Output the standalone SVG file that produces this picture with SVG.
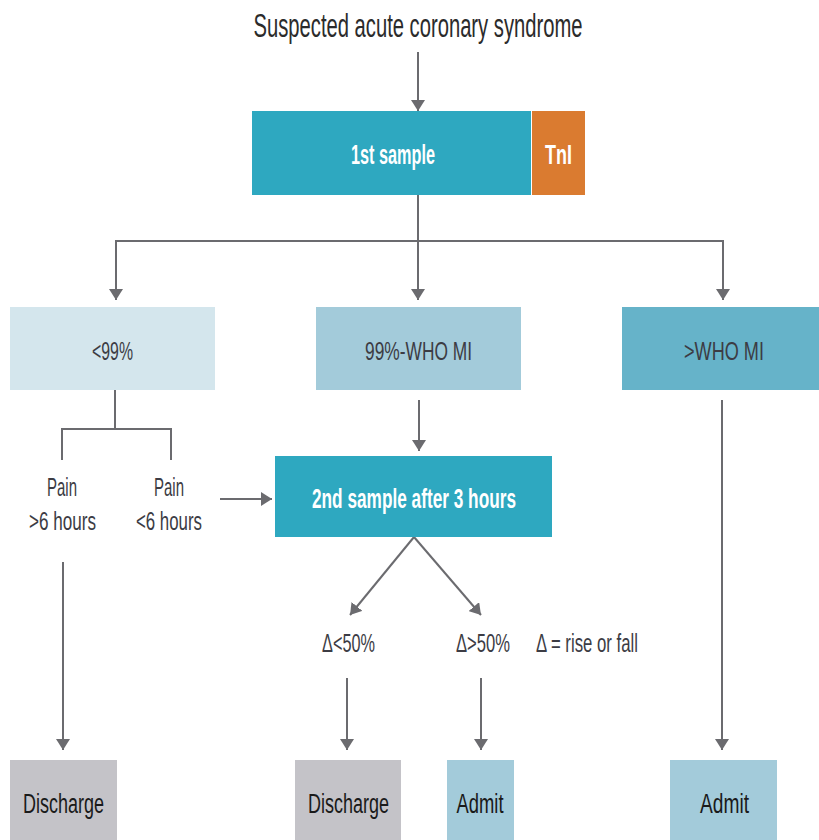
<svg xmlns="http://www.w3.org/2000/svg" width="819" height="840" viewBox="0 0 819 840">
  <style>
    text { font-family: "Liberation Sans", Arial, sans-serif; text-anchor: middle; }
    .title { font-size: 33px; fill: #2b2b2b; }
    .white { font-size: 28px; fill: #ffffff; font-weight: bold; }
    .label { font-size: 25px; fill: #3c3c44; }
    .end { font-size: 27px; fill: #1a1a1a; }
    .line { stroke: #6b6b6f; stroke-width: 2; fill: none; }
    .arrow { stroke: #6b6b6f; stroke-width: 2; fill: none; marker-end: url(#head); }
  </style>
  <defs>
    <marker id="head" markerWidth="11" markerHeight="14" refX="11" refY="7" orient="auto" markerUnits="userSpaceOnUse" viewBox="0 0 11 14">
      <path d="M0,0 L11,7 L0,14 z" fill="#6b6b6f"/>
    </marker>
  </defs>
  <rect width="819" height="840" fill="#ffffff"/>

  <!-- connectors -->
  <g id="connectors">
    <line class="arrow" x1="418" y1="52" x2="418" y2="111"/>
    <line class="line" x1="418" y1="195" x2="418" y2="241"/>
    <polyline class="line" points="116,290 116,241 723,241 723,290"/>
    <line class="arrow" x1="116" y1="250" x2="116" y2="300"/>
    <line class="arrow" x1="418" y1="241" x2="418" y2="300"/>
    <line class="arrow" x1="723" y1="250" x2="723" y2="300"/>
    <line class="line" x1="115" y1="390" x2="115" y2="429"/>
    <polyline class="line" points="62,460 62,429 171,429 171,460"/>
    <line class="arrow" x1="220" y1="499" x2="272" y2="499"/>
    <line class="arrow" x1="419" y1="400" x2="419" y2="451"/>
    <line class="arrow" x1="414" y1="537" x2="350" y2="615"/>
    <line class="arrow" x1="414" y1="537" x2="481" y2="615"/>
    <line class="arrow" x1="63" y1="562" x2="63" y2="750"/>
    <line class="arrow" x1="347" y1="678" x2="347" y2="750"/>
    <line class="arrow" x1="481" y1="678" x2="481" y2="750"/>
    <line class="arrow" x1="722" y1="400" x2="722" y2="750"/>
  </g>

  <g id="title">
    <text class="title" x="418" y="37" textLength="329" lengthAdjust="spacingAndGlyphs">Suspected acute coronary syndrome</text>
  </g>

  <g id="first-sample">
    <rect x="252" y="111" width="279" height="84" fill="#2ea8c0"/>
    <text class="white" x="393" y="164" textLength="84" lengthAdjust="spacingAndGlyphs">1st sample</text>
  </g>
  <g id="tni">
    <rect x="532" y="111" width="53" height="84" fill="#da7b30"/>
    <text class="white" x="558.5" y="164" textLength="27" lengthAdjust="spacingAndGlyphs">TnI</text>
  </g>

  <g id="below-99">
    <rect x="10" y="307" width="205" height="83" fill="#d4e6ed"/>
    <text class="label" x="112.5" y="360" textLength="41" lengthAdjust="spacingAndGlyphs">&lt;99%</text>
  </g>
  <g id="between-99-who">
    <rect x="316" y="307" width="205" height="83" fill="#a3cbda"/>
    <text class="label" x="418.5" y="360" textLength="107" lengthAdjust="spacingAndGlyphs">99%-WHO MI</text>
  </g>
  <g id="above-who">
    <rect x="622" y="307" width="197" height="83" fill="#66b3c9"/>
    <text class="label" x="724" y="360" textLength="80" lengthAdjust="spacingAndGlyphs">&gt;WHO MI</text>
  </g>

  <g id="pain-over-6">
    <text class="label" x="62" y="496" textLength="30" lengthAdjust="spacingAndGlyphs">Pain</text>
    <text class="label" x="62.5" y="530" textLength="67" lengthAdjust="spacingAndGlyphs">&gt;6 hours</text>
  </g>
  <g id="pain-under-6">
    <text class="label" x="169" y="496" textLength="30" lengthAdjust="spacingAndGlyphs">Pain</text>
    <text class="label" x="169" y="530" textLength="66" lengthAdjust="spacingAndGlyphs">&lt;6 hours</text>
  </g>

  <g id="second-sample">
    <rect x="275" y="456" width="277" height="81" fill="#2ea8c0"/>
    <text class="white" x="414" y="508" textLength="204" lengthAdjust="spacingAndGlyphs">2nd sample after 3 hours</text>
  </g>

  <g id="delta-low">
    <text class="label" x="348.5" y="652" textLength="53" lengthAdjust="spacingAndGlyphs">Δ&lt;50%</text>
  </g>
  <g id="delta-high">
    <text class="label" x="483" y="652" textLength="54" lengthAdjust="spacingAndGlyphs">Δ&gt;50%</text>
  </g>
  <g id="delta-key">
    <text class="label" x="587" y="652" textLength="102" lengthAdjust="spacingAndGlyphs">Δ = rise or fall</text>
  </g>

  <g id="discharge-1">
    <rect x="10" y="760" width="107" height="80" fill="#c4c3c8"/>
    <text class="end" x="63.5" y="813" textLength="81" lengthAdjust="spacingAndGlyphs">Discharge</text>
  </g>
  <g id="discharge-2">
    <rect x="295" y="760" width="106" height="80" fill="#c4c3c8"/>
    <text class="end" x="348.5" y="813" textLength="81" lengthAdjust="spacingAndGlyphs">Discharge</text>
  </g>
  <g id="admit-1">
    <rect x="447" y="760" width="67" height="80" fill="#a3cbda"/>
    <text class="end" x="480" y="813" textLength="47" lengthAdjust="spacingAndGlyphs">Admit</text>
  </g>
  <g id="admit-2">
    <rect x="670" y="760" width="107" height="80" fill="#a3cbda"/>
    <text class="end" x="724.5" y="813" textLength="49" lengthAdjust="spacingAndGlyphs">Admit</text>
  </g>
</svg>
